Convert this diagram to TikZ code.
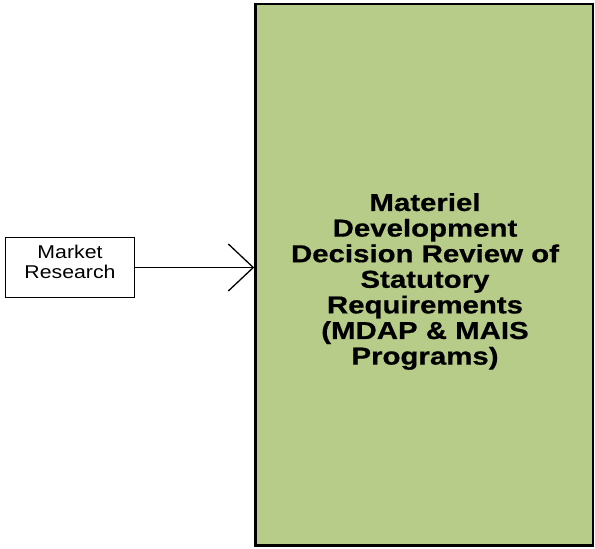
\documentclass[tikz,border=0pt]{standalone}
\usepackage{fontspec}
\setmainfont{Liberation Sans}
\newfontfamily\widefont[FakeStretch=1.15]{Liberation Sans}
\newfontfamily\widebold[FakeStretch=1.2,FakeBold=0.6]{Liberation Sans Bold}
\usetikzlibrary{arrows.meta}
\definecolor{boxgreen}{RGB}{183,204,137}
\tikzset{
  bigbox/.style={draw=black, line width=2.5pt, fill=boxgreen, rectangle, inner sep=0pt},
  smallbox/.style={draw=black, line width=1.3pt, fill=white, rectangle, inner sep=0pt},
  smalltext/.style={align=center, inner sep=0pt, font=\widefont\fontsize{18.5pt}{20pt}\selectfont},
  bigtext/.style={align=center, inner sep=0pt, font=\widebold\fontsize{24.5pt}{25.6pt}\selectfont},
  conn/.style={line width=1.3pt, -{Straight Barb[length=25pt,width=47pt,line width=1.3pt]}}
}
\begin{document}
\begin{tikzpicture}[x=1pt,y=1pt]
\useasboundingbox (0,0) rectangle (595,-549);
\node[bigbox, minimum width=337.5pt, minimum height=541.5pt] (mdd) at (424.25,-274.75) {};
\node[bigtext] (mddtext) at (425,-281.5) {Materiel\\Development\\Decision Review of\\Statutory\\Requirements\\(MDAP \& MAIS\\Programs)};
\node[smallbox, minimum width=129pt, minimum height=60pt] (mr) at (70,-267.5) {};
\node[smalltext] (mrtext) at (70,-262) {Market\\Research};
\draw[conn] (mr.east) -- (mr.east -| mdd.west);
\end{tikzpicture}
\end{document}
